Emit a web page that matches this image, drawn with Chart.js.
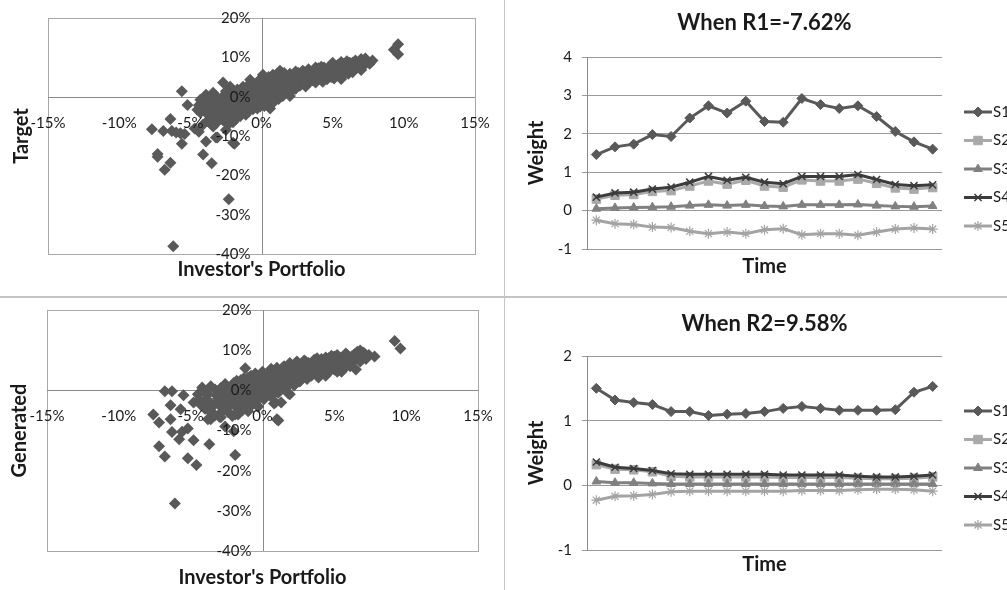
<!DOCTYPE html>
<html>
<head>
<meta charset="utf-8">
<script src="https://cdn.jsdelivr.net/npm/chart.js@4/dist/chart.umd.min.js"></script>
<style>
  html, body { margin: 0; padding: 0; background: #fff; overflow: hidden; }
  body { width: 1007px; height: 590px; position: relative; }
  canvas { position: absolute; }
  .sep { position: absolute; background: #c4c4c4; }
</style>
</head>
<body>
<canvas id="targetChart" width="500" height="295" style="left:0;top:0"></canvas>
<canvas id="r1Chart" width="502" height="295" style="left:505px;top:0"></canvas>
<canvas id="generatedChart" width="500" height="292" style="left:0;top:298px"></canvas>
<canvas id="r2Chart" width="502" height="292" style="left:505px;top:298px"></canvas>
<div class="sep" style="left:0;top:296px;width:1007px;height:2px"></div>
<div class="sep" style="left:504px;top:0;width:1px;height:590px"></div>
<script>
// investor's portfolio return (%) vs target return (%)
const targetPoints = [
  [-6.2,-38.0],[-2.3,-26.1],[-6.8,-18.6],[-6.4,-16.8],[-7.3,-15.3],[-7.3,-14.6],[-3.5,-16.9],[-4.1,-14.7],
  [-3.9,-11.4],[-1.9,-12.0],[-5.6,-12.0],[-7.7,-8.3],[-6.9,-8.7],[-6.3,-8.7],[-6.0,-9.1],[-5.7,-9.3],
  [-5.4,-9.5],[-4.7,-8.1],[-4.4,-8.9],[-3.2,-10.4],[-2.5,-8.5],[-6.4,-5.7],[-5.6,1.4],[-5.2,-2.1],
  [-2.7,3.6],[-4.3,-0.8],[0.6,-3.0],[2.0,0.2],[5.6,4.5],[9.6,13.3],[9.3,11.9],[9.6,10.8],[7.8,9.2],[7.3,9.7],
  [-3.9,0.5],[-4.5,-3.3],[-4.1,-7.1],[-3.4,-7.6],[-2.2,-6.6],[-1.1,-4.6],[-0.1,-2.5],[-3.4,1.0],[-2.2,2.5],
  [-0.8,4.3],[0.1,5.6],[-3.1,-10.4],[-2.0,-11.7],
  [-4.2,-1.5],[-4.0,-3.0],[-3.8,-4.5],[-3.6,-2.0],[-3.5,-5.5],[-3.4,-0.5],[-3.3,-3.5],[-3.2,-6.8],
  [-3.0,-1.2],[-3.0,-4.8],[-2.8,-2.6],[-2.7,-6.0],[-2.6,0.5],[-2.5,-3.8],[-2.4,-5.2],[-2.3,-1.5],
  [-2.2,1.8],[-2.1,-2.8],[-2.0,-6.5],[-1.9,-4.2],[-1.8,-0.6],[-1.7,-3.0],[-1.6,1.2],[-1.5,-5.0],
  [-1.4,-1.8],[-1.3,2.5],[-1.2,-3.6],[-1.1,0.2],[-1.0,-2.4],[-0.9,3.0],[-0.8,-1.0],[-0.7,1.5],
  [-0.6,-3.2],[-0.5,0.6],[-0.4,-1.6],[-0.3,2.8],[-0.2,-0.4],[-0.1,-2.2],[0.0,1.2],[0.1,4.0],
  [0.2,-0.8],[0.3,2.0],[0.4,-1.8],[0.5,0.8],[0.6,3.5],[0.7,-0.2],[0.8,1.8],[0.9,4.6],[1.0,0.4],
  [1.1,2.8],[1.2,-0.6],[1.3,6.6],[1.4,1.6],[1.5,3.8],[1.6,0.9],[1.7,5.0],[1.8,2.4],[1.9,4.2],
  [2.1,1.4],[2.2,3.2],[2.3,5.4],[2.4,2.0],[2.5,4.4],[2.6,6.0],[2.7,2.8],[2.8,4.9],[2.9,3.6],
  [3.0,6.2],[3.1,2.6],[3.2,4.8],[3.3,7.0],[3.4,3.8],[3.5,5.6],[3.6,4.2],[3.7,6.8],[3.8,3.6],
  [3.9,5.2],[4.0,7.2],[4.1,4.6],[4.2,6.0],[4.3,3.8],[4.4,7.4],[4.5,5.4],[4.6,4.4],[4.7,6.6],
  [4.8,7.8],[4.9,5.0],[5.0,6.4],[5.1,4.6],[5.2,7.6],[5.3,5.8],[5.4,8.2],[5.5,6.6],[5.6,5.2],
  [5.7,7.4],[5.8,8.4],[5.9,6.2],[6.0,7.8],[6.1,5.8],[6.2,8.6],[6.3,7.0],[6.4,6.2],[6.5,8.2],
  [6.7,7.4],[6.9,8.8],[7.0,6.8],[7.2,8.0],[7.4,9.0],[7.6,8.4],
  [-4.4,-2.2],[-4.3,-4.0],[-4.0,-1.0],[-3.9,-2.6],[-3.8,-6.2],[-3.7,-0.2],[-3.6,-3.6],[-3.5,-7.0],
  [-3.4,-2.2],[-3.3,-5.0],[-3.2,0.2],[-3.1,-2.8],[-2.9,-5.6],[-2.8,-0.4],[-2.7,-4.2],[-2.6,-2.0],
  [-2.5,1.4],[-2.4,-6.8],[-2.3,-3.4],[-2.2,-0.8],[-2.1,-5.0],[-2.0,0.6],[-1.9,-2.0],[-1.8,-5.6],
  [-1.7,1.8],[-1.6,-3.6],[-1.5,-0.6],[-1.4,-4.4],[-1.3,0.8],[-1.2,-1.6],[-1.1,2.0],[-1.0,-4.0],
  [-0.9,-0.2],[-0.8,1.8],[-0.7,-2.4],[-0.6,3.4],[-0.5,-1.0],[-0.4,1.0],[-0.3,-3.0],[-0.2,2.2],
  [-0.1,4.4],[0.0,-0.6],[0.1,2.6],[0.2,-2.4],[0.3,3.8],[0.4,1.2],[0.5,5.0],[0.6,0.0],[0.7,2.4],
  [0.8,5.6],[0.9,-1.2],[1.0,3.4],[1.1,5.8],[1.2,2.0],[1.4,4.4],[1.5,0.2],[1.6,6.0],[1.8,3.4],
  [1.9,1.0],[2.0,5.8],[2.2,4.2],[2.4,6.4],[2.5,2.8],[2.7,5.4],[2.9,6.6],[3.0,3.2],[3.2,5.8],
  [3.4,6.2],[3.6,5.0],[3.8,7.4],[4.0,4.8],[4.2,7.6],[4.4,5.8],[4.6,6.8],[4.8,5.6],[5.0,8.6],
  [5.2,6.2],[5.4,7.0],[5.6,8.8],[5.8,7.0],[6.0,9.0],[6.2,7.2],[6.4,8.6],[6.6,9.2],[6.8,8.0],
  [7.0,9.6],[7.2,9.2]
];

// investor's portfolio return (%) vs generated return (%)
const generatedPoints = [
  [-6.1,-28.2],[-6.8,-16.5],[-7.2,-13.9],[-5.2,-16.9],[-4.6,-18.6],[-4.8,-12.4],[-3.7,-13.4],[-1.9,-16.1],
  [-6.3,-10.4],[-5.8,-12.2],[-5.6,-10.3],[-5.2,-9.5],[-7.6,-6.0],[-7.2,-8.0],[-6.4,-7.2],[-6.4,-3.7],
  [-6.8,-0.2],[-6.3,-0.2],[-5.5,-1.2],[-5.7,-4.7],[-3.8,-7.2],[-1.2,5.5],[0.8,-3.3],[1.1,-7.5],
  [1.8,-0.8],[5.5,4.6],[6.5,5.2],[9.2,12.3],[9.6,10.4],[7.8,8.4],[7.0,9.4],[6.8,9.9],[-4.8,-3.0],
  [-3.6,-7.2],[-2.6,-9.0],[-2.0,-10.2],[-1.0,-5.2],[1.0,-7.2],[0.9,-3.0],[-2.9,-6.7],[-1.7,-6.0],
  [-0.3,-4.0],[1.9,-1.0],[1.3,-3.0],
  [-4.2,0.7],[-4.4,-2.2],[-4.0,-4.6],[-3.8,-1.0],[-3.6,-3.2],[-3.5,-5.8],[-3.3,0.2],[-3.1,-2.0],
  [-3.0,-6.6],[-2.9,-4.0],[-2.7,-0.8],[-2.6,1.6],[-2.5,-2.8],[-2.4,-5.4],[-2.3,-1.4],[-2.1,0.8],
  [-2.0,-3.6],[-1.9,-6.0],[-1.8,2.4],[-1.7,-1.2],[-1.6,-4.4],[-1.5,0.4],[-1.4,-2.4],[-1.3,3.0],
  [-1.2,-0.4],[-1.1,-3.2],[-1.0,1.6],[-0.9,-1.8],[-0.8,3.6],[-0.7,0.2],[-0.6,-2.8],[-0.5,2.2],
  [-0.4,-0.8],[-0.3,-4.0],[-0.2,1.2],[-0.1,3.4],[0.0,-1.4],[0.1,0.6],[0.2,2.6],[0.3,-0.4],
  [0.4,4.2],[0.5,1.4],[0.6,-1.6],[0.7,3.0],[0.8,0.6],[0.9,5.0],[1.0,2.0],[1.1,-0.6],[1.2,3.8],
  [1.3,1.2],[1.4,5.6],[1.5,2.8],[1.6,0.4],[1.7,4.4],[1.8,6.2],[1.9,2.0],[2.0,3.6],[2.1,5.2],
  [2.2,1.2],[2.3,6.8],[2.4,3.0],[2.5,4.6],[2.6,2.2],[2.7,6.0],[2.8,3.8],[2.9,5.2],[3.0,7.2],
  [3.1,2.8],[3.2,4.4],[3.3,6.4],[3.4,3.6],[3.5,5.4],[3.6,7.6],[3.7,4.2],[3.8,6.2],[3.9,3.2],
  [4.0,5.4],[4.1,7.8],[4.2,4.4],[4.3,6.8],[4.4,3.6],[4.5,5.8],[4.6,8.0],[4.7,4.8],[4.8,7.0],
  [4.9,5.6],[5.0,8.4],[5.1,6.2],[5.2,4.6],[5.3,7.4],[5.4,5.6],[5.5,8.2],[5.6,6.6],[5.7,7.8],
  [5.8,5.8],[5.9,8.8],[6.0,7.0],[6.1,6.0],[6.2,8.4],[6.3,7.4],[6.4,9.0],[6.6,8.0],[6.8,7.2],
  [7.0,8.6],[7.2,7.8],[7.4,8.8],
  [-4.5,-1.0],[-4.3,-3.6],[-4.1,-0.2],[-3.9,-2.2],[-3.7,-5.0],[-3.6,1.0],[-3.4,-3.8],[-3.3,-6.2],
  [-3.2,-1.2],[-3.0,-3.0],[-2.9,0.6],[-2.8,-5.2],[-2.6,-1.8],[-2.5,-4.6],[-2.4,0.0],[-2.2,-2.4],
  [-2.1,-6.4],[-2.0,1.8],[-1.9,-3.0],[-1.8,-0.2],[-1.6,-2.0],[-1.5,2.6],[-1.4,-5.0],[-1.3,-0.8],
  [-1.2,1.4],[-1.1,-2.2],[-1.0,3.2],[-0.9,-4.2],[-0.8,0.6],[-0.7,2.4],[-0.6,-1.4],[-0.5,4.2],
  [-0.4,-2.6],[-0.3,0.8],[-0.2,-1.0],[-0.1,2.4],[0.0,4.6],[0.1,-2.2],[0.2,1.6],[0.3,3.2],
  [0.4,-0.6],[0.5,2.4],[0.6,5.4],[0.7,0.8],[0.8,3.8],[0.9,1.8],[1.0,5.6],[1.1,3.0],[1.2,0.4],
  [1.4,3.6],[1.5,6.0],[1.6,1.8],[1.8,4.8],[1.9,6.8],[2.0,2.6],[2.2,5.8],[2.4,7.2],[2.5,3.8],
  [2.7,4.8],[2.9,7.4],[3.0,4.2],[3.2,6.8],[3.4,5.0],[3.6,6.0],[3.8,8.0],[4.0,6.4],[4.2,5.0],
  [4.4,8.2],[4.6,6.2],[4.8,8.6],[5.0,5.2],[5.2,8.8],[5.4,6.8],[5.6,7.4],[5.8,9.2],[6.0,8.2],
  [6.2,6.8],[6.4,8.0],[6.6,9.6],[6.8,8.6],[7.1,9.2]
];

const xTicks = { min: -15, max: 15, step: 5 };
const yTicks = { min: -40, max: 20, step: 10 };

const timePoints = ['1','2','3','4','5','6','7','8','9','10','11','12','13','14','15','16','17','18','19'];

const r1S1 = [1.46,1.66,1.73,1.98,1.93,2.41,2.73,2.54,2.85,2.32,2.30,2.92,2.76,2.66,2.73,2.45,2.06,1.79,1.60];
const r1S2 = [0.30,0.40,0.42,0.50,0.52,0.64,0.77,0.69,0.79,0.64,0.61,0.80,0.77,0.77,0.82,0.71,0.59,0.56,0.60];
const r1S3 = [0.05,0.07,0.08,0.09,0.10,0.13,0.15,0.13,0.15,0.12,0.11,0.15,0.15,0.15,0.16,0.13,0.11,0.10,0.12];
const r1S4 = [0.35,0.46,0.48,0.56,0.61,0.74,0.89,0.79,0.87,0.74,0.70,0.89,0.89,0.89,0.94,0.81,0.68,0.65,0.67];
const r1S5 = [-0.25,-0.34,-0.36,-0.43,-0.44,-0.54,-0.60,-0.56,-0.60,-0.50,-0.47,-0.63,-0.60,-0.60,-0.64,-0.56,-0.48,-0.45,-0.48];

const r2S1 = [1.50,1.32,1.28,1.25,1.14,1.14,1.08,1.10,1.11,1.14,1.19,1.22,1.19,1.16,1.16,1.16,1.17,1.44,1.53];
const r2S2 = [0.32,0.25,0.24,0.21,0.14,0.13,0.13,0.13,0.13,0.13,0.12,0.12,0.12,0.12,0.11,0.10,0.10,0.11,0.13];
const r2S3 = [0.06,0.04,0.04,0.03,0.02,0.02,0.02,0.02,0.02,0.02,0.02,0.02,0.02,0.02,0.02,0.02,0.02,0.02,0.02];
const r2S4 = [0.36,0.28,0.26,0.23,0.18,0.17,0.17,0.17,0.17,0.17,0.16,0.16,0.16,0.16,0.14,0.13,0.13,0.14,0.16];
const r2S5 = [-0.23,-0.17,-0.16,-0.14,-0.10,-0.09,-0.09,-0.09,-0.09,-0.09,-0.09,-0.08,-0.08,-0.08,-0.07,-0.06,-0.06,-0.07,-0.09];

const FONT = "Lato, 'Open Sans', sans-serif";
const TEXT = '#1a1a1a';
Chart.defaults.font.family = FONT;
Chart.defaults.color = TEXT;

// excel "axes cross at zero": frame, zero lines and tick labels drawn from the chart's own scales
const crossAxes = {
    id: 'crossAxes',
    beforeDatasetsDraw(chart) {
        const a = chart.chartArea, ctx = chart.ctx;
        const x0 = Math.round(chart.scales.x.getPixelForValue(0)) + 0.5;
        const y0 = Math.round(chart.scales.y.getPixelForValue(0)) + 0.5;
        ctx.save();
        ctx.lineWidth = 1;
        ctx.strokeStyle = '#a8a8a8';
        ctx.strokeRect(Math.round(a.left) + 0.5, Math.round(a.top) + 0.5, Math.round(a.right - a.left), Math.round(a.bottom - a.top));
        ctx.strokeStyle = '#8a8a8a';
        ctx.beginPath();
        ctx.moveTo(a.left, y0); ctx.lineTo(a.right, y0);
        ctx.moveTo(x0, a.top); ctx.lineTo(x0, a.bottom);
        ctx.stroke();
        ctx.restore();
    },
    afterDraw(chart, args, opts) {
        const ctx = chart.ctx, xs = chart.scales.x, ys = chart.scales.y;
        const x0 = xs.getPixelForValue(0), y0 = ys.getPixelForValue(0);
        ctx.save();
        ctx.fillStyle = TEXT;
        ctx.font = opts.size + 'px ' + FONT;
        ctx.textAlign = 'center';
        ctx.textBaseline = 'middle';
        xs.ticks.forEach(t => ctx.fillText(t.value + '%', xs.getPixelForValue(t.value), y0 + opts.xGap));
        ctx.textAlign = 'right';
        ys.ticks.forEach(t => ctx.fillText(t.value + '%', x0 - opts.yGap, ys.getPixelForValue(t.value)));
        ctx.restore();
    }
};

// excel style legend: short line with the marker in its middle
const lineLegend = {
    id: 'lineLegend',
    afterDraw(chart, args, opts) {
        const ctx = chart.ctx;
        const x0 = chart.chartArea.right + opts.gap;
        chart.data.datasets.forEach((ds, i) => {
            const y = opts.top + i * opts.spacing;
            ctx.save();
            ctx.strokeStyle = ds.borderColor;
            ctx.lineWidth = ds.borderWidth;
            ctx.beginPath();
            ctx.moveTo(x0, y);
            ctx.lineTo(x0 + opts.lineLength, y);
            ctx.stroke();
            ctx.fillStyle = ds.pointBackgroundColor;
            ctx.strokeStyle = ds.pointBorderColor;
            ctx.lineWidth = ds.pointBorderWidth;
            if (Chart.helpers && Chart.helpers.drawPoint) {
                Chart.helpers.drawPoint(ctx, {
                    pointStyle: ds.pointStyle, radius: ds.pointRadius, rotation: 0, borderWidth: ds.pointBorderWidth
                }, x0 + opts.lineLength / 2, y);
            }
            ctx.fillStyle = TEXT;
            ctx.font = '15px ' + FONT;
            ctx.textBaseline = 'middle';
            ctx.textAlign = 'left';
            ctx.fillText(ds.label, x0 + opts.lineLength + 1, y);
            ctx.restore();
        });
    }
};

function scatterChart(id, points, yName, box) {
    const titleFont = { size: 20, weight: 'bold' };
    return new Chart(document.getElementById(id), {
        type: 'scatter',
        data: {
            datasets: [{
                data: points.map(p => ({ x: p[0], y: p[1] })),
                pointStyle: 'rectRot',
                pointRadius: 6,
                backgroundColor: '#595959',
                borderColor: '#595959',
                borderWidth: 0
            }]
        },
        options: {
            responsive: false,
            animation: false,
            layout: { padding: { top: box.top, right: box.right, left: 0, bottom: 0 } },
            plugins: {
                legend: { display: false },
                tooltip: { enabled: false },
                crossAxes: { size: 15, xGap: 26, yGap: 11 }
            },
            scales: {
                x: {
                    type: 'linear', position: 'bottom', min: xTicks.min, max: xTicks.max,
                    ticks: { stepSize: xTicks.step, display: false },
                    grid: { display: false, drawTicks: false }, border: { display: false },
                    title: { display: true, text: "Investor's Portfolio", font: titleFont, color: TEXT, padding: { top: 0, bottom: box.xTitlePad } },
                    afterFit: s => { s.height = box.bottomH; }
                },
                y: {
                    type: 'linear', position: 'left', min: yTicks.min, max: yTicks.max,
                    ticks: { stepSize: yTicks.step, display: false },
                    grid: { display: false, drawTicks: false }, border: { display: false },
                    title: { display: true, text: yName, font: titleFont, color: TEXT, padding: { top: box.yTitlePad, bottom: 0 } },
                    afterFit: s => { s.width = box.leftW; }
                }
            }
        },
        plugins: [crossAxes]
    });
}

const seriesStyles = {
    S1: { color: '#595959', pointStyle: 'rectRot', radius: 5, pointBorder: 1, order: 5 },
    S2: { color: '#a9a9a9', pointStyle: 'rect', radius: 6, pointBorder: 1, order: 4 },
    S3: { color: '#808080', pointStyle: 'triangle', radius: 5, pointBorder: 1, order: 3 },
    S4: { color: '#3c3c3c', pointStyle: 'crossRot', radius: 5, pointBorder: 1.5, order: 2 },
    S5: { color: '#a3a3a3', pointStyle: 'star', radius: 5, pointBorder: 1.2, order: 1 }
};

function series(label, data) {
    const s = seriesStyles[label];
    return {
        label, data, order: s.order,
        borderColor: s.color, borderWidth: 3, tension: 0,
        pointStyle: s.pointStyle, pointRadius: s.radius,
        pointBackgroundColor: s.color, pointBorderColor: s.color, pointBorderWidth: s.pointBorder
    };
}

function weightChart(id, title, sets, yMax, box) {
    return new Chart(document.getElementById(id), {
        type: 'line',
        data: { labels: timePoints, datasets: sets },
        options: {
            responsive: false,
            animation: false,
            layout: { padding: { top: 0, right: box.right, left: 0, bottom: 0 } },
            plugins: {
                legend: { display: false },
                tooltip: { enabled: false },
                title: {
                    display: true, text: title, fullSize: false, color: TEXT,
                    font: { size: 22, weight: 'bold' }, padding: { top: box.titleTop, bottom: box.titleBottom }
                },
                lineLegend: { gap: 22, lineLength: 28, top: box.legendTop, spacing: 28.5 }
            },
            scales: {
                x: {
                    offset: true,
                    ticks: { display: false },
                    grid: { display: false, drawTicks: false },
                    border: { display: false },
                    title: { display: true, text: 'Time', color: TEXT, font: { size: 20, weight: 'bold' }, padding: { top: 0, bottom: box.xTitlePad } },
                    afterFit: s => { s.height = box.bottomH; }
                },
                y: {
                    min: -1, max: yMax,
                    ticks: { stepSize: 1, padding: 10, font: { size: 15 }, color: TEXT },
                    grid: { color: '#9a9a9a', tickLength: 5 },
                    border: { color: '#8a8a8a' },
                    title: { display: true, text: 'Weight', color: TEXT, font: { size: 20, weight: 'bold' }, padding: { top: 20, bottom: 0 } },
                    afterFit: s => { s.width = 82; }
                }
            }
        },
        plugins: [lineLegend]
    });
}

scatterChart('targetChart', targetPoints, 'Target',
    { top: 18, right: 25, leftW: 48, bottomH: 41, xTitlePad: 13, yTitlePad: 10 });
scatterChart('generatedChart', generatedPoints, 'Generated',
    { top: 12, right: 22, leftW: 47, bottomH: 39, xTitlePad: 0, yTitlePad: 8 });

weightChart('r1Chart', 'When R1=-7.62%',
    [series('S1', r1S1), series('S2', r1S2), series('S3', r1S3), series('S4', r1S4), series('S5', r1S5)], 4,
    { right: 65, titleTop: 9.8, titleBottom: 20.8, bottomH: 46, xTitlePad: 16, legendTop: 112 });
weightChart('r2Chart', 'When R2=9.58%',
    [series('S1', r2S1), series('S2', r2S2), series('S3', r2S3), series('S4', r2S4), series('S5', r2S5)], 2,
    { right: 65, titleTop: 12.8, titleBottom: 18.8, bottomH: 40, xTitlePad: 13, legendTop: 113 });
</script>
</body>
</html>
